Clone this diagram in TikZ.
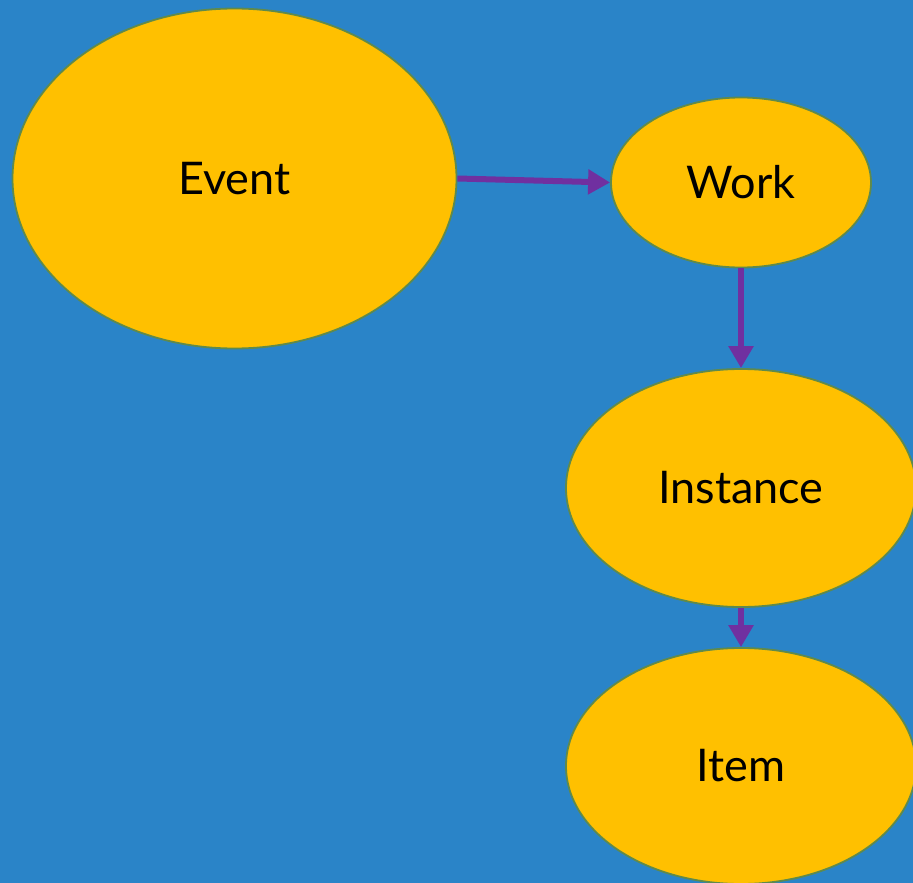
\documentclass[tikz,border=0pt]{standalone}
\usepackage{fontspec}
\setmainfont{Lato}
\usetikzlibrary{arrows.meta,shapes.geometric}
\definecolor{bg}{HTML}{2A84C8}
\definecolor{gold}{HTML}{FFC000}
\definecolor{rim}{HTML}{5F8A4C}
\definecolor{arr}{HTML}{7030A0}
\tikzset{
  blob/.style={ellipse, draw=rim, line width=1.8pt, fill=gold, inner sep=0pt,
    font=\fontsize{45}{54}\selectfont, text=black},
  conn/.style={draw=arr, line width=6pt, -{Triangle[width=24pt,length=22pt]}},
}
\begin{document}
\begin{tikzpicture}[x=1pt,y=-1pt]
\fill[bg] (0,0) rectangle (913,883);
\useasboundingbox (0,0) rectangle (913,883);
\begin{scope}
\clip (0,0) rectangle (913,883);
\node[blob, minimum width=444pt, minimum height=340pt] (event) at (234.5,178.5) {Event};
\node[blob, minimum width=260pt, minimum height=170pt] (work) at (741,182.5) {Work};
\node[blob, minimum width=350pt, minimum height=238pt] (instance) at (741,488) {Instance};
\node[blob, minimum width=350pt, minimum height=236pt] (item) at (741,766) {Item};
\end{scope}
\draw[conn] (event.east) -- (work.west);
\draw[conn] (work.south) -- (instance.north);
\draw[conn] (instance.south) -- (item.north);
\end{tikzpicture}
\end{document}
